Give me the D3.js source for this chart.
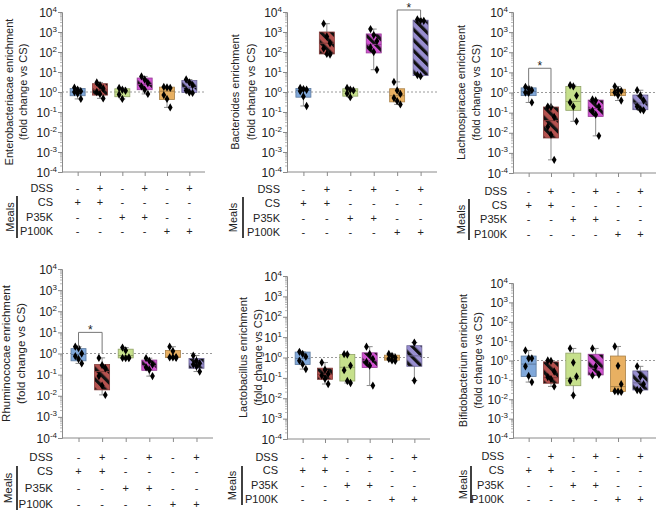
<!DOCTYPE html>
<html><head><meta charset="utf-8">
<script src="https://cdn.jsdelivr.net/npm/d3@7/dist/d3.min.js"></script>
<style>body{margin:0;background:#fff}svg{display:block}</style>
</head><body><svg id="c" width="656" height="510"></svg>
<script>
// ---------- data ----------
const groups = ["CS", "CS+DSS", "P35K", "P35K+DSS", "P100K", "P100K+DSS"];
const rowLabels = ["DSS", "CS", "P35K", "P100K"];
const dssRow  = ["-", "+", "-", "+", "-", "+"];
const csRow   = ["+", "+", "-", "-", "-", "-"];
const p35Row  = ["-", "-", "+", "+", "-", "-"];
const p100Row = ["-", "-", "-", "-", "+", "+"];
const yTickExps = [-4, -3, -2, -1, 0, 1, 2, 3, 4];
const panelTitles = ["Enterobacteriacae enrichment", "Bacteroides enrichment", "Lachnospiracae enrichment",
                     "Rhuminococae enrichment", "Lactobacillus enrichment", "Bifidobacterium enrichment"];
const yTitleLine2 = "(fold change vs CS)";

// individual points per group
const enteroPoints = [[1.65,1.3,1.1,1.0,0.85,0.45],[3.0,2.2,1.5,1.0,0.8,0.48],[1.6,1.3,1.15,0.75,0.45],
  [6.0,4.2,2.8,1.9,1.3,0.8],[1.8,1.7,1.6,0.7,0.45,0.17],[4.2,3.0,2.2,1.2,0.95,0.9]];
const bacteroPoints = [[1.6,1.4,1.3,1.1,0.6,0.2],[2600,600,270,150,80,75],[1.6,1.3,1.2,0.85,0.55],
  [1400,700,350,170,100,13],[3.2,1.2,0.8,0.5,0.35,0.24],[4200,3800,3600,7,6.2]];
const lachnoPoints = [[1.9,1.6,1.3,1.0,0.95,0.32],[0.2,0.19,0.06,0.02,0.008,0.00045],[2.3,2.0,0.7,0.32,0.2,0.037],
  [0.45,0.4,0.2,0.12,0.08,0.007],[2.0,1.3,1.2,1.0,0.75,0.4],[1.3,0.7,0.4,0.2,0.14,0.13]];
const rhumiPoints = [[2.1,1.8,1.0,0.75,0.55,0.34],[0.62,0.28,0.2,0.085,0.03,0.011],[1.9,1.4,0.65,0.62,0.6,0.6],
  [0.6,0.45,0.3,0.22,0.17,0.085],[2.1,1.3,0.68,0.65,0.65,0.62],[0.8,0.45,0.35,0.3,0.25,0.14]];
const lactoPoints = [[1.9,1.5,1.1,0.7,0.47,0.27],[0.57,0.25,0.16,0.13,0.09,0.05],[1.45,1.4,0.4,0.24,0.07,0.056],
  [3.4,1.5,0.85,0.6,0.4,0.042],[1.5,1.2,1.0,0.85,0.72,0.68],[5.4,0.074]];
const bifidoPoints = [[3.3,1.3,1.3,0.5,0.16,0.077],[1.0,0.95,0.27,0.14,0.11,0.046],[4.2,0.78,0.15,0.09,0.016],
  [4.2,0.5,0.19,0.17],[5.3,0.53,0.06,0.026,0.025,0.024],[0.5,0.15,0.06,0.03,0.028]];

// box stats per group: [min, q1, median, q3, max]
const enteroBoxes = [[0.45,0.65,1.0,1.5,1.65],[0.48,0.7,1.3,2.6,3.0],[0.45,0.58,1.0,1.45,1.6],
  [0.8,1.3,2.4,5.0,6.0],[0.17,0.42,1.1,1.75,1.8],[0.9,0.95,1.7,3.8,4.2]];
const bacteroBoxes = [[0.2,0.55,1.2,1.5,1.6],[75,80,275,1000,2600],[0.55,0.62,1.1,1.45,1.6],
  [13,90,240,800,1400],[0.24,0.32,0.65,1.45,3.2],[6.2,6.6,3600,3900,4200]];
const lachnoBoxes = [[0.32,0.7,1.1,1.7,1.9],[0.00045,0.0055,0.04,0.19,0.2],[0.037,0.13,0.36,2.0,2.3],
  [0.007,0.065,0.16,0.42,0.45],[0.4,0.7,1.0,1.45,2.0],[0.13,0.14,0.3,0.75,1.3]];
const rhumiBoxes = [[0.34,0.45,0.9,1.7,2.1],[0.011,0.019,0.14,0.3,0.62],[0.6,0.62,0.8,1.6,1.9],
  [0.085,0.16,0.26,0.49,0.6],[0.62,0.64,0.67,1.4,2.1],[0.14,0.2,0.32,0.58,0.8]];
const lactoBoxes = [[0.27,0.45,0.9,1.85,1.9],[0.05,0.085,0.15,0.3,0.57],[0.056,0.07,0.33,1.4,1.45],
  [0.042,0.32,0.7,1.7,3.4],[0.68,0.74,0.95,1.3,1.5],[0.074,0.37,1.2,3.8,5.4]];
const bifidoBoxes = [[0.077,0.15,0.65,1.7,3.3],[0.046,0.067,0.13,0.85,1.0],[0.016,0.05,0.12,2.4,4.2],
  [0.17,0.18,0.4,2.1,4.2],[0.024,0.025,0.045,1.7,5.3],[0.028,0.03,0.07,0.29,0.5]];

// significance brackets: [panel, groupA, groupB, topValue, leftEndValue, rightEndValue]
const brackets = [[1, 4, 5, 12600, 3.2, 5000], [2, 0, 1, 16, 2.0, 0.2], [3, 0, 1, 10, 1.9, 1.0]];

const allPoints = [enteroPoints, bacteroPoints, lachnoPoints, rhumiPoints, lactoPoints, bifidoPoints];
const allBoxes = [enteroBoxes, bacteroBoxes, lachnoBoxes, rhumiBoxes, lactoBoxes, bifidoBoxes];

// ---------- style / layout ----------
const fills = ["#80A8DA", "#B5524F", "#C6E08C", "#D052D0", "#E8B062", "#988ED0"];
const hatched = [false, true, false, true, false, true];
const FONT = "'Liberation Sans', Arial, sans-serif";

const layouts = [
  {L:62, R:205, T:12, B:172, t1:9, t2:23, lab:53, bar:17, mx:10, rows:[188,202,217,231], barY:[196,238], fs:11},
  {L:287, R:437, T:12, B:172, t1:235, t2:251, lab:280, bar:243, mx:233, rows:[189,203,218,232], barY:[197,238], fs:11},
  {L:513, R:656, T:12, B:173, t1:461, t2:476, lab:507, bar:469, mx:461, rows:[191,205,219,234], barY:[199,240], fs:11},
  {L:62, R:213, T:269, B:438, t1:6, t2:21, lab:53, bar:17, mx:8, rows:[457,471,488,504], barY:[466,510], fs:11.5},
  {L:287, R:430, T:276, B:439, t1:243, t2:258, lab:278, bar:242, mx:232, rows:[457,470,485,499], barY:[466,505], fs:11},
  {L:513, R:656, T:283, B:438, t1:463, t2:478, lab:504, bar:471, mx:463, rows:[456,470,485,499], barY:[466,503], fs:11}
];

const svg = d3.select("#c");
svg.append("rect").attr("width", 656).attr("height", 510).attr("fill", "#fff");

// hatch patterns
const defs = svg.append("defs");
fills.forEach((c, i) => {
  if (!hatched[i]) return;
  const p = defs.append("pattern").attr("id", "hatch" + i).attr("patternUnits", "userSpaceOnUse")
    .attr("width", 7.5).attr("height", 7.5).attr("patternTransform", "rotate(-45)");
  p.append("rect").attr("width", 7.5).attr("height", 7.5).attr("fill", c);
  p.append("rect").attr("x", 0).attr("width", 3.2).attr("height", 7.5).attr("fill", "#111");
});

const rows = [dssRow, csRow, p35Row, p100Row];

layouts.forEach((lay, pi) => {
  const g = svg.append("g");
  const y = d3.scaleLog().domain([1e-4, 1e4]).range([lay.B, lay.T]);
  const x = d3.scalePoint().domain(groups).range([lay.L, lay.R]).padding(0.7);
  const bw = 15;
  const axisColor = "#8a8a8a";

  // reference line at 1
  g.append("line").attr("x1", lay.L).attr("x2", lay.R).attr("y1", y(1)).attr("y2", y(1))
    .attr("stroke", "#9a9a9a").attr("stroke-width", 1).attr("stroke-dasharray", "2,2");

  // y axis major ticks
  const yAxis = d3.axisLeft(y).tickValues(yTickExps.map(e => Math.pow(10, e))).tickSize(4).tickFormat("");
  const ga = g.append("g").attr("transform", `translate(${lay.L},0)`).call(yAxis);
  ga.select(".domain").attr("stroke", axisColor);
  ga.selectAll(".tick line").attr("stroke", axisColor);
  // minor ticks
  const minor = [];
  for (let e = -4; e < 4; e++) for (let m = 2; m <= 9; m++) minor.push(m * Math.pow(10, e));
  g.selectAll(".mt").data(minor).join("line")
    .attr("x1", lay.L - 2).attr("x2", lay.L).attr("y1", d => y(d)).attr("y2", d => y(d))
    .attr("stroke", axisColor).attr("stroke-width", 0.6);
  // tick labels
  yTickExps.forEach(e => {
    const t = g.append("text").attr("x", lay.L - 5).attr("y", y(Math.pow(10, e)) + 4.5)
      .attr("text-anchor", "end").attr("font-family", FONT).attr("font-size", 12).attr("fill", "#222");
    t.append("tspan").text("10");
    t.append("tspan").attr("font-size", 8).attr("dy", -5).text(String(e));
  });

  // x axis
  const xAxis = d3.axisBottom(x).tickSize(4).tickFormat("");
  const gx = g.append("g").attr("transform", `translate(0,${lay.B})`).call(xAxis);
  gx.select(".domain").attr("stroke", axisColor).attr("d", `M${lay.L},0H${lay.R}`);
  gx.selectAll(".tick line").attr("stroke", axisColor);

  // y title
  const cy = (lay.T + lay.B) / 2;
  [[lay.t1, panelTitles[pi]], [lay.t2, yTitleLine2]].forEach(([tx, s]) => {
    g.append("text").attr("transform", `translate(${tx},${cy}) rotate(-90)`)
      .attr("text-anchor", "middle").attr("dominant-baseline", "central")
      .attr("font-family", FONT).attr("font-size", lay.fs).attr("fill", "#222").text(s);
  });

  // boxes
  const boxes = allBoxes[pi], pts = allPoints[pi];
  groups.forEach((gr, gi) => {
    const [mn, q1, md, q3, mx] = boxes[gi];
    const cx = x(gr);
    const edge = d3.color(fills[gi]).darker(0.9).formatHex();
    g.append("line").attr("x1", cx).attr("x2", cx).attr("y1", y(mx)).attr("y2", y(mn))
      .attr("stroke", "#8c8c8c").attr("stroke-width", 1);
    [mn, mx].forEach(v => g.append("line").attr("x1", cx - 3).attr("x2", cx + 3).attr("y1", y(v)).attr("y2", y(v))
      .attr("stroke", "#8c8c8c").attr("stroke-width", 1));
    g.append("rect").attr("x", cx - bw / 2).attr("width", bw).attr("y", y(q3)).attr("height", y(q1) - y(q3))
      .attr("fill", hatched[gi] ? `url(#hatch${gi})` : fills[gi]).attr("stroke", edge).attr("stroke-width", 0.8);
    g.append("line").attr("x1", cx - bw / 2).attr("x2", cx + bw / 2).attr("y1", y(md)).attr("y2", y(md))
      .attr("stroke", edge).attr("stroke-width", 1);
    const n = pts[gi].length;
    g.selectAll(null).data(pts[gi]).join("path")
      .attr("d", d3.symbol(d3.symbolDiamond, 20))
      .attr("transform", (d, k) => `translate(${cx + (n > 2 ? (k % 3 - 1) * 3.2 : 0)},${y(d)})`)
      .attr("fill", "#000");
  });

  // table
  rows.forEach((r, ri) => {
    g.append("text").attr("x", lay.lab).attr("y", lay.rows[ri]).attr("text-anchor", "end")
      .attr("dominant-baseline", "central").attr("font-family", FONT).attr("font-size", lay.fs).attr("fill", "#222")
      .text(rowLabels[ri]);
    r.forEach((s, gi) => {
      g.append("text").attr("x", x(groups[gi])).attr("y", lay.rows[ri]).attr("text-anchor", "middle")
        .attr("dominant-baseline", "central").attr("font-family", FONT).attr("font-size", 11).attr("fill", "#222")
        .text(s);
    });
  });
  g.append("line").attr("x1", lay.bar).attr("x2", lay.bar).attr("y1", lay.barY[0]).attr("y2", lay.barY[1])
    .attr("stroke", "#111").attr("stroke-width", 1.6);
  g.append("text").attr("transform", `translate(${lay.mx},${(lay.barY[0] + lay.barY[1]) / 2}) rotate(-90)`)
    .attr("text-anchor", "middle").attr("dominant-baseline", "central")
    .attr("font-family", FONT).attr("font-size", lay.fs).attr("fill", "#222").text("Meals");

  // brackets
  brackets.filter(b => b[0] === pi).forEach(([_, a, b2, top, le, re]) => {
    const xa = x(groups[a]), xb = x(groups[b2]);
    g.append("path").attr("d", `M${xa},${y(le)}V${y(top)}H${xb}V${y(re)}`)
      .attr("fill", "none").attr("stroke", "#777").attr("stroke-width", 1);
    g.append("text").attr("x", (xa + xb) / 2).attr("y", y(top) + 2).attr("text-anchor", "middle")
      .attr("font-family", FONT).attr("font-size", 12).attr("fill", "#222").text("*");
  });
});
</script></body></html>
